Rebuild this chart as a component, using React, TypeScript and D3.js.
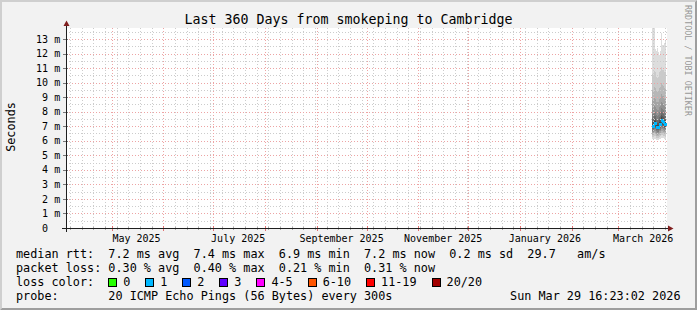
import React, { useEffect } from "react";
import * as d3 from "d3";

const W = 697;
const H = 310;
const END_TIME = "2026-03-29T16:23:02Z";
const RANGE_DAYS = 360;
const Y_MAX_MS = 13.755;

const TITLE = "Last 360 Days from smokeping to Cambridge";
const Y_TITLE = "Seconds";
const WATERMARK = "RRDTOOL / TOBI OETIKER";

const yMajorTicks = [0, 1, 2, 3, 4, 5, 6, 7, 8, 9, 10, 11, 12, 13];
const yTickNumbers = ["0", "1", "2", "3", "4", "5", "6", "7", "8", "9", "10", "11", "12", "13"];
const yTickUnits = ["", "m", "m", "m", "m", "m", "m", "m", "m", "m", "m", "m", "m", "m"];
const yMinorTicks = [0.5, 1.5, 2.5, 3.5, 4.5, 5.5, 6.5, 7.5, 8.5, 9.5, 10.5, 11.5, 12.5, 13.5];

const xLabelMonths = ["2025-05-01", "2025-07-01", "2025-09-01", "2025-11-01", "2026-01-01", "2026-03-01"];
const xLabels = ["May 2025", "July 2025", "September 2025", "November 2025", "January 2026", "March 2026"];

const sampleTimes = [
  "2026-03-21T07:00:00Z", "2026-03-21T21:24:00Z", "2026-03-22T11:48:00Z", "2026-03-23T02:12:00Z",
  "2026-03-23T16:36:00Z", "2026-03-24T07:00:00Z", "2026-03-24T21:24:00Z", "2026-03-25T11:48:00Z",
  "2026-03-26T02:12:00Z", "2026-03-26T16:36:00Z", "2026-03-27T07:00:00Z", "2026-03-27T21:24:00Z",
  "2026-03-28T11:48:00Z", "2026-03-29T02:12:00Z",
];

const medianRtt = [7.04, 7.04, 7.2, 7.2, 6.95, 6.93, 6.93, 7.15, 7.15, 7.43, 7.35, 7.3, 7.15, 7.15];

const pingRtt = [
  [6.12, 6.28, 6.40, 6.50, 6.60, 6.70, 6.79, 6.88, 6.95, 7.01, 7.08, 7.18, 7.32, 7.55, 7.85, 8.25, 8.8, 9.5, 10.6, 14.0],
  [6.10, 6.26, 6.38, 6.49, 6.59, 6.69, 6.78, 6.87, 6.94, 7.00, 7.07, 7.17, 7.30, 7.52, 7.82, 8.2, 8.75, 9.45, 10.5, 14.0],
  [6.15, 6.32, 6.45, 6.57, 6.68, 6.79, 6.89, 6.98, 7.07, 7.15, 7.24, 7.35, 7.50, 7.72, 8.0, 8.4, 8.95, 9.7, 10.8, 13.9],
  [6.14, 6.30, 6.44, 6.56, 6.67, 6.78, 6.88, 6.97, 7.06, 7.14, 7.23, 7.33, 7.47, 7.68, 7.96, 8.35, 8.9, 9.6, 10.7, 12.3],
  [6.08, 6.22, 6.34, 6.45, 6.55, 6.64, 6.73, 6.81, 6.88, 6.93, 6.99, 7.08, 7.22, 7.45, 7.75, 8.15, 8.7, 9.4, 10.4, 12.2],
  [6.06, 6.20, 6.32, 6.43, 6.53, 6.62, 6.71, 6.79, 6.86, 6.91, 6.97, 7.06, 7.20, 7.42, 7.72, 8.1, 8.65, 9.35, 10.3, 12.4],
  [6.07, 6.21, 6.33, 6.44, 6.54, 6.63, 6.72, 6.80, 6.87, 6.92, 6.98, 7.07, 7.21, 7.44, 7.74, 8.12, 8.68, 9.4, 10.4, 12.1],
  [6.12, 6.29, 6.42, 6.54, 6.65, 6.75, 6.85, 6.94, 7.03, 7.11, 7.19, 7.30, 7.45, 7.66, 7.95, 8.35, 8.9, 9.6, 10.7, 11.9],
  [6.13, 6.30, 6.43, 6.55, 6.66, 6.76, 6.86, 6.95, 7.04, 7.12, 7.20, 7.31, 7.46, 7.68, 7.98, 8.38, 8.95, 9.7, 10.8, 12.2],
  [6.20, 6.40, 6.55, 6.69, 6.82, 6.94, 7.05, 7.16, 7.27, 7.38, 7.48, 7.60, 7.75, 7.95, 8.25, 8.65, 9.2, 9.95, 11.1, 13.4],
  [6.18, 6.37, 6.52, 6.65, 6.78, 6.90, 7.00, 7.10, 7.20, 7.30, 7.40, 7.52, 7.67, 7.88, 8.18, 8.58, 9.1, 9.85, 10.9, 12.6],
  [6.17, 6.35, 6.50, 6.63, 6.75, 6.87, 6.97, 7.07, 7.17, 7.26, 7.35, 7.47, 7.62, 7.83, 8.12, 8.5, 9.05, 9.8, 10.9, 12.6],
  [6.14, 6.31, 6.45, 6.57, 6.68, 6.78, 6.88, 6.97, 7.06, 7.12, 7.19, 7.30, 7.45, 7.67, 7.96, 8.36, 8.9, 9.65, 10.7, 12.7],
  [6.14, 6.31, 6.45, 6.57, 6.68, 6.78, 6.88, 6.97, 7.06, 7.12, 7.19, 7.30, 7.45, 7.67, 7.96, 8.36, 8.9, 9.65, 10.7, 12.9],
];

const lossLabels = ["0", "1", "2", "3", "4-5", "6-10", "11-19", "20/20"];
const lossColors = ["#26ff00", "#00b8ff", "#0059ff", "#5e00ff", "#ff00ff", "#ff5500", "#ff0000", "#a10000"];
const medianLossColor = "#00b8ff";

const legendRtt = "median rtt:  7.2 ms avg  7.4 ms max  6.9 ms min  7.2 ms now  0.2 ms sd  29.7   am/s";
const legendLoss = "packet loss: 0.30 % avg  0.40 % max  0.21 % min  0.31 % now";
const legendLossColor = "loss color:";
const legendProbe = "probe:       20 ICMP Echo Pings (56 Bytes) every 300s";
const legendDate = "Sun Mar 29 16:23:02 2026";

const FONT = "'DejaVu Sans Mono', monospace";

export default function App() {
  useEffect(() => {
    document.body.style.margin = "0";
  }, []);

  const end = new Date(END_TIME);
  const start = new Date(end.getTime() - RANGE_DAYS * 86400000);
  const X0 = 66, X1 = 666, Y0 = 228, Y1 = 28;
  const x = d3.scaleUtc().domain([start, end]).range([X0, X1]);
  const y = d3.scaleLinear().domain([0, Y_MAX_MS]).range([Y0, Y1]);
  const px = (d: Date) => Math.round(x(d)) + 0.5;
  const py = (v: number) => Math.round(y(v)) + 0.5;

  const weeks = d3.utcSunday.range(start, end);
  const months = d3.utcMonth.range(start, end);

  const minorGrid = "#cccccc";
  const majorGrid = "#eda4a4";
  const dash = "1,2";

  const times = sampleTimes.map((s) => new Date(s));
  const colX0 = times.map((t) => Math.round(x(t)));
  const colX1 = times.map((t, i) => (i < times.length - 1 ? Math.round(x(times[i + 1])) : X1));

  const half = 10;
  const bands = d3.range(1, half + 1).map((ibot) => {
    const c = Math.floor((190 / half) * (half - ibot)) + 50;
    const hex = c.toString(16).padStart(2, "0");
    return { lo: ibot - 1, hi: 20 - ibot, color: `#${hex}${hex}${hex}` };
  });

  const cw = 7.12;
  const swatchX: number[] = [];
  let sx = 108.3;
  lossLabels.forEach((l) => {
    swatchX.push(sx);
    sx += (l.length + 4.2) * cw;
  });

  const textStyle: React.CSSProperties = { whiteSpace: "pre" };

  return (
    <svg
      width={W}
      height={H}
      viewBox={`0 0 ${W} ${H}`}
      style={{ position: "absolute", left: 0, top: 0, display: "block" }}
      fontFamily={FONT}
    >
      <defs>
        <clipPath id="plotclip">
          <rect x={X0} y={Y1} width={X1 - X0 + 1} height={Y0 - Y1} />
        </clipPath>
      </defs>
      <rect x={0} y={0} width={W} height={H} fill="#f2f2f2" />
      <polygon points={`0,0 ${W},0 ${W - 2},2 2,2 2,${H - 2} 0,${H}`} fill="#cfcfcf" />
      <polygon points={`${W},0 ${W},${H} 0,${H} 2,${H - 2} ${W - 2},${H - 2} ${W - 2},2`} fill="#9e9e9e" />
      <rect x={X0} y={Y1} width={X1 - X0 + 1} height={Y0 - Y1} fill="#ffffff" />

      {/* smoke */}
      <g clipPath="url(#plotclip)" shapeRendering="crispEdges">
        {bands.map((b, bi) => (
          <g key={bi} fill={b.color}>
            {pingRtt.map((p, i) => {
              const top = y(p[b.hi]);
              const bot = y(p[b.lo]);
              return <rect key={i} x={colX0[i]} y={top} width={colX1[i] - colX0[i]} height={Math.max(0, bot - top)} />;
            })}
          </g>
        ))}
      </g>

      {/* grid */}
      <g strokeWidth={1} fill="none">
        {yMinorTicks.map((v) => (
          <line key={"ym" + v} x1={X0} x2={X1 + 1} y1={py(v)} y2={py(v)} stroke={minorGrid} strokeDasharray={dash} />
        ))}
        {weeks.map((d) => (
          <line key={"xw" + d.getTime()} x1={px(d)} x2={px(d)} y1={Y1} y2={Y0} stroke={minorGrid} strokeDasharray={dash} />
        ))}
        {yMajorTicks.filter((v) => v > 0).map((v) => (
          <line key={"yM" + v} x1={X0} x2={X1 + 1} y1={py(v)} y2={py(v)} stroke={majorGrid} strokeDasharray={dash} />
        ))}
        {months.map((d) => (
          <line key={"xM" + d.getTime()} x1={px(d)} x2={px(d)} y1={Y1} y2={Y0} stroke={majorGrid} strokeDasharray={dash} />
        ))}
        {weeks.map((d) => (
          <line key={"xwt" + d.getTime()} x1={px(d)} x2={px(d)} y1={Y0 - 1} y2={Y0 + 2} stroke="#a8a8a8" />
        ))}
        {months.map((d) => (
          <line key={"xMt" + d.getTime()} x1={px(d)} x2={px(d)} y1={Y0 - 2} y2={Y0 + 3} stroke="#e07070" />
        ))}
        {yMajorTicks.map((v) => (
          <line key={"yt" + v} x1={X0 - 3} x2={X0 + 2} y1={py(v)} y2={py(v)} stroke="#777" />
        ))}
      </g>

      {/* median */}
      <g fill={medianLossColor} shapeRendering="crispEdges">
        {medianRtt.map((m, i) => (
          <rect key={i} x={colX0[i]} y={Math.round(y(m)) - 1} width={colX1[i] - colX0[i] + 1} height={3} />
        ))}
      </g>

      {/* axes */}
      <g stroke="#1f1f1f" strokeWidth={1}>
        <line x1={X0 - 4} x2={X1 + 4} y1={Y0 + 0.5} y2={Y0 + 0.5} />
        <line x1={X0 + 0.5} x2={X0 + 0.5} y1={Y0 + 4} y2={Y1 - 4} />
      </g>
      <polygon points={`${X1 + 2},${Y0 - 2.5} ${X1 + 2},${Y0 + 3.5} ${X1 + 7.5},${Y0 + 0.5}`} fill="#801f1f" />
      <polygon points={`${X0 - 2.5},${Y1 - 2} ${X0 + 3.5},${Y1 - 2} ${X0 + 0.5},${Y1 - 7.5}`} fill="#801f1f" />

      {/* y tick labels */}
      <g fontSize={10} fill="#000">
        {yMajorTicks.map((v, i) => (
          <g key={"yl" + v}>
            <text x={48} y={y(v) + 3.6} textAnchor="end">{yTickNumbers[i]}</text>
            <text x={54.2} y={y(v) + 3.6}>{yTickUnits[i]}</text>
          </g>
        ))}
      </g>

      {/* x tick labels */}
      <g fontSize={10} fill="#000" textAnchor="middle">
        {xLabelMonths.map((m, i) => {
          const d = new Date(m + "T00:00:00Z");
          const c = x(new Date(d.getTime() + 15 * 86400000));
          return (
            <text key={m} x={c} y={241.5}>{xLabels[i]}</text>
          );
        })}
      </g>

      {/* title */}
      <text x={W / 2} y={24} fontSize={13.3} textAnchor="middle" fill="#000">{TITLE}</text>

      {/* y title */}
      <text transform="translate(14.5,127) rotate(-90)" fontSize={11.8} textAnchor="middle" fill="#000">{Y_TITLE}</text>

      {/* watermark */}
      <text transform="translate(684.5,5) rotate(90)" fontSize={8.4} fill="#000" fillOpacity={0.42}>{WATERMARK}</text>

      {/* legend */}
      <g fontSize={11.8} fill="#000">
        <text x={16} y={258.3} xmlSpace="preserve" style={textStyle}>{legendRtt}</text>
        <text x={16} y={272.1} xmlSpace="preserve" style={textStyle}>{legendLoss}</text>
        <text x={16} y={285.9} xmlSpace="preserve" style={textStyle}>{legendLossColor}</text>
        {lossLabels.map((l, i) => (
          <g key={l}>
            <rect x={Math.round(swatchX[i]) + 0.5} y={278.5} width={8} height={8} fill={lossColors[i]} stroke="#000" strokeWidth={1} />
            <text x={swatchX[i] + 15} y={285.9}>{l}</text>
          </g>
        ))}
        <text x={16} y={299.7} xmlSpace="preserve" style={textStyle}>{legendProbe}</text>
        <text x={680.5} y={299.7} textAnchor="end" xmlSpace="preserve" style={textStyle}>{legendDate}</text>
      </g>
    </svg>
  );
}
